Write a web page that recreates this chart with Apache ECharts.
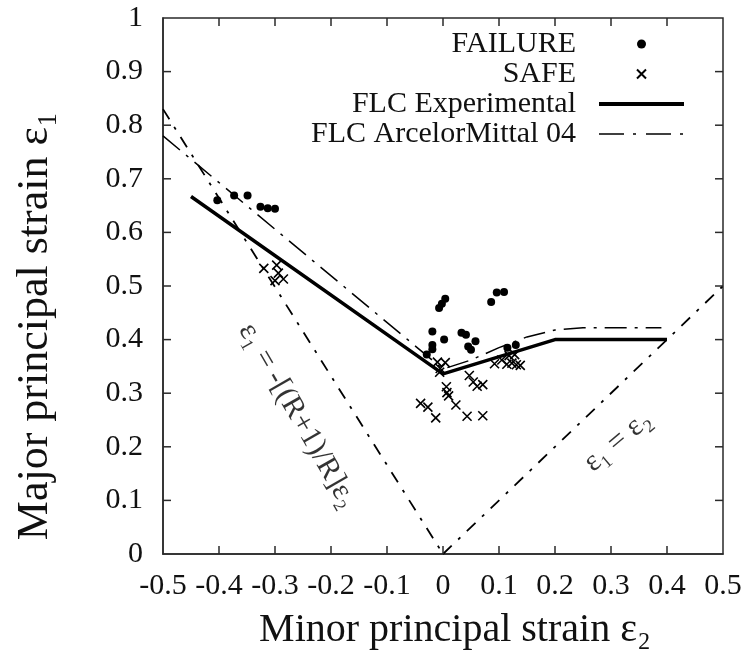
<!DOCTYPE html>
<html><head><meta charset="utf-8">
<script src="https://cdn.jsdelivr.net/npm/echarts@6/dist/echarts.min.js"></script>
<style>html,body{margin:0;padding:0;background:#fff}#c{width:749px;height:655px}</style>
</head><body><div id="c"></div>
<script>
// ---- data ----
var xTicks = [-0.5, 0.5, 0.1];   // min, max, interval
var yTicks = [0, 1, 0.1];
var xTickVals = [-0.4,-0.3,-0.2,-0.1,0,0.1,0.2,0.3,0.4];
var yTickVals = [0.1,0.2,0.3,0.4,0.5,0.6,0.7,0.8,0.9];
var failure = [
  [-0.403,0.660],[-0.373,0.669],[-0.349,0.669],[-0.326,0.648],[-0.313,0.645],[-0.300,0.644],
  [0.004,0.476],[-0.002,0.467],[-0.007,0.459],
  [0.096,0.488],[0.109,0.489],[0.086,0.470],
  [-0.019,0.415],[0.002,0.400],[-0.019,0.390],[-0.019,0.382],[-0.029,0.372],
  [0.033,0.413],[0.041,0.409],[0.058,0.397],[0.045,0.387],[0.050,0.381],
  [0.115,0.385],[0.130,0.390]
];
var safe = [
  [-0.320,0.533],[-0.297,0.539],[-0.294,0.524],[-0.285,0.513],[-0.300,0.510],
  [-0.010,0.358],[0.004,0.357],[-0.005,0.346],[-0.006,0.339],
  [0.006,0.312],[0.007,0.301],[0.010,0.295],
  [-0.040,0.281],[-0.027,0.274],[-0.013,0.254],
  [0.023,0.278],[0.043,0.257],[0.071,0.258],
  [0.047,0.333],[0.054,0.321],[0.061,0.313],[0.071,0.316],
  [0.092,0.355],[0.105,0.362],[0.114,0.354],[0.123,0.356],[0.131,0.353],[0.138,0.352],[0.118,0.370],[0.128,0.372]
];
var flcExp = [[-0.45,0.667],[0,0.336],[0.2,0.40],[0.4,0.40]];
var flcAM = [[-0.5,0.78],[0,0.345],[0.05,0.362],[0.1,0.385],[0.15,0.405],[0.2,0.418],[0.25,0.422],[0.39,0.422]];
var rLine = [[-0.5,0.83],[0,0]];
var eqLine = [[0,0],[0.5,0.5]];
var notes = [
  {text:'ε₁ = -[(R+1)/R]ε₂', at:[-0.260,0.258], rot:-60},
  {text:'ε₁ = ε₂', at:[0.312,0.210], rot:40}
];
var names = ['FAILURE','SAFE','FLC Experimental','FLC ArcelorMittal 04'];

// ---- chart ----
var FONT = 'Liberation Serif';
var INK = '#2a2a2a';
var TICK = 8;
var chart = echarts.init(document.getElementById('c'), null, {renderer:'canvas'});
function baseAxis(t, pos){
  return {type:'value', position:pos, min:t[0], max:t[1], interval:t[2],
    axisLine:{show:true, onZero:false, lineStyle:{color:INK, width:1.5}},
    axisTick:{show:false},
    splitLine:{show:false},
    axisLabel:{show:true, color:'#111', fontFamily:FONT, fontSize:30, margin:17,
      formatter:function(v){ return (Math.round(v*10)/10).toString(); }}};
}
var xb = baseAxis(xTicks,'bottom');
xb.name = 'Minor principal strain ε₂'; xb.nameLocation='middle'; xb.nameGap=56;
xb.nameTextStyle = {fontFamily:FONT, fontSize:40, color:'#111', padding:[0,0,0,24]};
var yl = baseAxis(yTicks,'left');
yl.axisLabel.margin = 20;
yl.name = 'Major principal strain ε₁'; yl.nameLocation='middle'; yl.nameGap=106;
yl.nameTextStyle = {fontFamily:FONT, fontSize:44, color:'#111', padding:[0,80,0,0]};

// inward ticks on all four sides of the frame
// side: 'top' | 'bottom' | 'left' | 'right'
function frameTicks(vals, side){
  var isX = (side === 'top' || side === 'bottom');
  var edge = side === 'top' ? yTicks[1] : side === 'bottom' ? yTicks[0]
           : side === 'left' ? xTicks[0] : xTicks[1];
  return {type:'custom', coordinateSystem:'cartesian2d', silent:true, z:5, clip:false,
    data: vals.map(function(v){ return isX ? [v, edge] : [edge, v]; }),
    renderItem:function(params, api){
      var p = api.coord([api.value(0), api.value(1)]);
      var shape;
      if (side === 'top') shape = {x1:p[0], y1:p[1], x2:p[0], y2:p[1]+TICK};
      else if (side === 'bottom') shape = {x1:p[0], y1:p[1], x2:p[0], y2:p[1]-TICK};
      else if (side === 'left') shape = {x1:p[0], y1:p[1], x2:p[0]+TICK, y2:p[1]};
      else shape = {x1:p[0], y1:p[1], x2:p[0]-TICK, y2:p[1]};
      return {type:'line', shape:shape, style:{stroke:INK, lineWidth:1.5}};
    }};
}

var crossPath = 'path://M0,0L10,10M10,0L0,10';
var hideDot = {opacity:0};
chart.setOption({
  animation:false,
  backgroundColor:'#fff',
  grid:{left:163, right:26, top:18, bottom:99, containLabel:false,
    show:true, borderColor:INK, borderWidth:1.5, backgroundColor:'transparent'},
  xAxis:xb,
  yAxis:yl,
  legend:{data:[
      {name:names[0]},
      {name:names[1]},
      {name:names[2], itemStyle:hideDot, lineStyle:{width:4, color:'#000'}},
      {name:names[3], itemStyle:hideDot, lineStyle:{width:1.5, color:'#000', type:[25,9,3,10]}}],
    orient:'vertical', right:58, top:24, align:'right',
    itemWidth:85, itemHeight:9, itemGap:0,
    textStyle:{fontFamily:FONT, fontSize:30, lineHeight:28, color:'#111', padding:[0,18,0,0]}},
  series:[
    frameTicks(xTickVals, 'top'),
    frameTicks(xTickVals, 'bottom'),
    frameTicks(yTickVals, 'left'),
    frameTicks(yTickVals, 'right'),
    {name:'FAILURE', type:'scatter', data:failure, symbol:'circle', symbolSize:8,
      itemStyle:{color:'#000', opacity:1}, z:3},
    {name:'SAFE', type:'scatter', data:safe, symbol:crossPath, symbolSize:9,
      itemStyle:{color:'none', borderColor:'#000', borderWidth:1.6, opacity:1}, z:3},
    {name:'FLC Experimental', type:'line', data:flcExp, symbol:'none',
      itemStyle:{color:'#000'}, lineStyle:{color:'#000', width:3.5}, z:4},
    {name:'FLC ArcelorMittal 04', type:'line', data:flcAM, symbol:'none',
      itemStyle:{color:'#000'}, lineStyle:{color:'#000', width:1.5, type:[22,8,3,8]}, z:4},
    {name:'rLine', type:'line', data:rLine, symbol:'none',
      lineStyle:{color:'#000', width:1.8, type:[12,9,3,9]}, z:2},
    {name:'eqLine', type:'line', data:eqLine, symbol:'none',
      lineStyle:{color:'#000', width:1.8, type:[12,9,3,9]}, z:2},
    {name:'notes', type:'scatter', symbolSize:0, silent:true, itemStyle:{color:'#000'},
      data:notes.map(function(n){ return {value:n.at,
        label:{show:true, position:'inside', formatter:n.text, rotate:n.rot,
          fontFamily:FONT, fontSize:30, color:'#000', textBorderWidth:0, textBorderColor:'transparent'}}; })}
  ]
});
</script></body></html>
